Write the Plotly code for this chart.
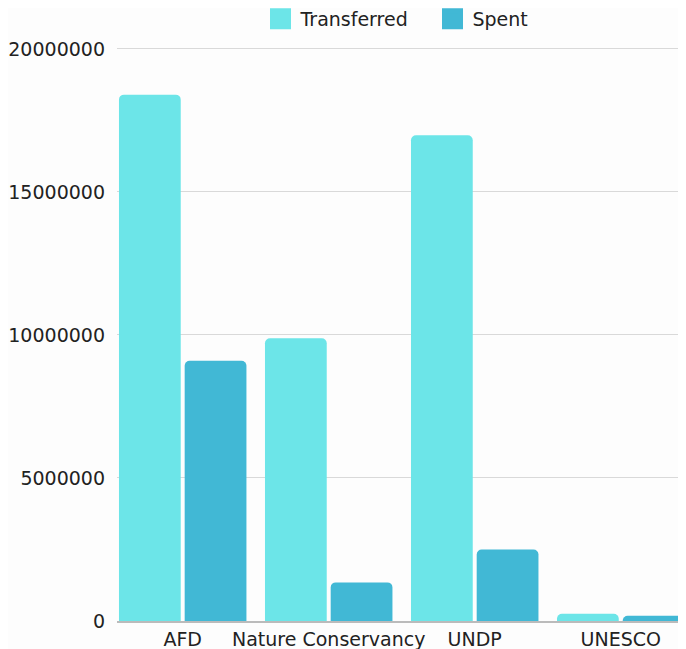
import plotly.graph_objects as go

categories = ["AFD", "Nature Conservancy", "UNDP", "UNESCO"]
transferred = [18400000, 9880000, 16980000, 250000]
spent = [9100000, 1350000, 2500000, 180000]
series_names = ["Transferred", "Spent"]
series_colors = ["#6CE5E8", "#41B8D5"]

TXT = "#222222"
FONT = "DejaVu Sans"

fig = go.Figure()
for name, vals, col in zip(series_names, [transferred, spent], series_colors):
    fig.add_trace(go.Bar(
        x=categories, y=vals, name=name, showlegend=False,
        marker=dict(color=col, cornerradius=5, line=dict(width=0)),
    ))
# legend-only entries, bigger square swatches
for name, col in zip(series_names, series_colors):
    fig.add_trace(go.Scatter(
        x=[None], y=[None], mode="markers", name=name,
        marker=dict(symbol="square", size=16, color=col,
                    line=dict(color=col, width=5)),
    ))

# the page body adds 8px margin, so the figure is 8px smaller
fig.update_layout(
    width=678, height=641,
    barmode="group", bargap=0.1, bargroupgap=0.06,
    plot_bgcolor="#fdfdfd", paper_bgcolor="#fdfdfd",
    font=dict(family=FONT, size=19, color=TXT),
    margin=dict(l=109, r=0, t=38, b=28, autoexpand=False),
    legend=dict(
        orientation="h", x=0.2522, xanchor="left",
        y=1.047, yanchor="middle",
        font=dict(size=19, color=TXT), itemwidth=30,
        entrywidth=127, entrywidthmode="pixels",
    ),
)
fig.update_xaxes(
    range=[-0.45, 3.447], showgrid=False, ticks="",
    showline=True, linecolor="#bbbbbb", linewidth=2,
    tickfont=dict(size=19, color=TXT), ticklabelstandoff=0,
)
fig.update_yaxes(
    range=[0, 20100000], tickvals=[0, 5000000, 10000000, 15000000, 20000000],
    ticktext=["0", "5000000", "10000000", "15000000", "20000000"],
    showgrid=True, gridcolor="#d9d9d9", gridwidth=1, zeroline=False,
    tickfont=dict(size=19, color=TXT), ticklabelstandoff=11,
)

fig.write_html("out.html")
